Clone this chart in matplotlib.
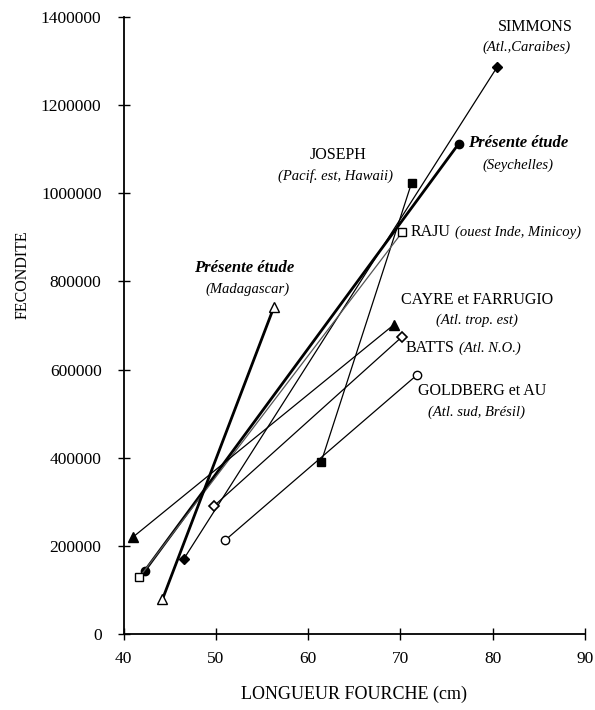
import matplotlib
matplotlib.use('Agg')
import matplotlib.pyplot as plt

plt.rcParams['font.family'] = ['Liberation Serif', 'DejaVu Serif']

# longueur fourche (cm) et fecondite : deux points par etude
simmons_x = [46.5, 80.5]
simmons_y = [170000, 1287000]
seych_x = [42.3, 76.3]
seych_y = [144000, 1112000]
joseph_x = [61.4, 71.2]
joseph_y = [390000, 1023000]
raju_x = [41.7, 70.2]
raju_y = [129000, 912000]
madag_x = [44.2, 56.3]
madag_y = [79000, 743000]
cayre_x = [41.0, 69.3]
cayre_y = [220000, 702000]
batts_x = [49.8, 70.2]
batts_y = [291000, 675000]
goldberg_x = [51.0, 71.8]
goldberg_y = [213000, 588000]

x_ticks = [40, 50, 60, 70, 80, 90]
y_ticks = [0, 200000, 400000, 600000, 800000, 1000000, 1200000, 1400000]

fig = plt.figure(figsize=(5.95, 7.10), dpi=100)
ax = fig.add_axes([0.208, 0.107, 0.775, 0.869])

k = 'black'
ax.plot(simmons_x, simmons_y, color=k, lw=0.9, marker='D', ms=5, mfc=k)
ax.plot(seych_x, seych_y, color=k, lw=2.0, marker='o', ms=6, mfc=k)
ax.plot(joseph_x, joseph_y, color=k, lw=0.9, marker='s', ms=6, mfc=k)
ax.plot(raju_x, raju_y, color='#555555', lw=0.9, marker='s', ms=6, mfc='white', mec=k)
ax.plot(madag_x, madag_y, color=k, lw=2.0, marker='^', ms=7, mfc='white', mec=k)
ax.plot(cayre_x, cayre_y, color=k, lw=0.9, marker='^', ms=7, mfc=k)
ax.plot(batts_x, batts_y, color=k, lw=0.9, marker='D', ms=5, mfc='white', mec=k, mew=1.2)
ax.plot(goldberg_x, goldberg_y, color=k, lw=0.9, marker='o', ms=6, mfc='white', mec=k)

# etiquettes des etudes
ax.text(84.6, 1377000, 'SIMMONS', ha='center', va='center', fontsize=11.5)
ax.text(83.7, 1332000, '(Atl.,Caraibes)', ha='center', va='center', fontsize=10.5, style='italic')
ax.text(82.8, 1114000, 'Présente étude', ha='center', va='center', fontsize=12, style='italic', weight='bold')
ax.text(82.8, 1064000, '(Seychelles)', ha='center', va='center', fontsize=10.5, style='italic')
ax.text(63.2, 1087000, 'JOSEPH', ha='center', va='center', fontsize=11.5)
ax.text(63.0, 1039000, '(Pacif. est, Hawaii)', ha='center', va='center', fontsize=10.5, style='italic')
ax.text(71.1, 912000, 'RAJU', ha='left', va='center', fontsize=11.5)
ax.text(75.9, 912000, '(ouest Inde, Minicoy)', ha='left', va='center', fontsize=10.5, style='italic')
ax.text(53.0, 830000, 'Présente étude', ha='center', va='center', fontsize=12, style='italic', weight='bold')
ax.text(53.4, 783000, '(Madagascar)', ha='center', va='center', fontsize=10.5, style='italic')
ax.text(78.3, 758000, 'CAYRE et FARRUGIO', ha='center', va='center', fontsize=11.5)
ax.text(78.3, 712000, '(Atl. trop. est)', ha='center', va='center', fontsize=10.5, style='italic')
ax.text(70.6, 649000, 'BATTS', ha='left', va='center', fontsize=11.5)
ax.text(76.3, 649000, '(Atl. N.O.)', ha='left', va='center', fontsize=10.5, style='italic')
ax.text(78.9, 551000, 'GOLDBERG et AU', ha='center', va='center', fontsize=11.5)
ax.text(78.3, 504000, '(Atl. sud, Brésil)', ha='center', va='center', fontsize=10.5, style='italic')

ax.set_xlim(40, 90)
ax.set_ylim(0, 1400000)
ax.set_xticks(x_ticks)
ax.set_yticks(y_ticks)
ax.set_yticklabels([str(v) for v in y_ticks])
ax.tick_params(direction='inout', length=8, width=1, labelsize=12.5)
ax.tick_params(axis='y', pad=12)
ax.tick_params(axis='x', pad=8)
for s in ['top', 'right']:
    ax.spines[s].set_visible(False)
for s in ['left', 'bottom']:
    ax.spines[s].set_linewidth(1.3)

ax.set_xlabel('LONGUEUR FOURCHE (cm)', fontsize=13, labelpad=14)
ax.set_ylabel('FECONDITE', fontsize=11.5)
ax.yaxis.set_label_coords(-0.201, 0.582)

fig.savefig('out.png', dpi=100)
